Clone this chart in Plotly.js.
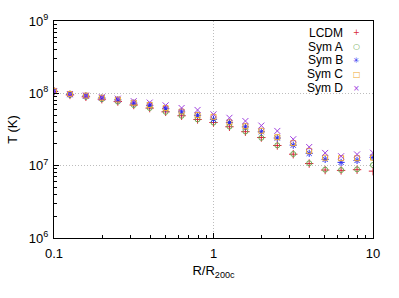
<!DOCTYPE html>
<html><head><meta charset="utf-8">
<script src="https://cdn.plot.ly/plotly-3.0.1.min.js"></script>
<style>html,body{margin:0;padding:0;background:#fff}#chart{width:399px;height:298px}</style>
</head><body><div id="chart"></div>
<script>
// R / R200c
const radius = [0.1, 0.1259, 0.1585, 0.1995, 0.2512, 0.3162, 0.3981, 0.5012, 0.631, 0.7943,
  1.0, 1.259, 1.585, 1.995, 2.512, 3.162, 3.981, 5.012, 6.31, 7.943, 10.0];
// Temperature (K)
const tLCDM = [1.06e8, 9.5e7, 8.95e7, 8.3e7, 7.7e7, 6.9e7, 6.25e7, 5.55e7, 4.9e7, 4.35e7,
  3.95e7, 3.45e7, 2.95e7, 2.45e7, 1.9e7, 1.44e7, 1.07e7, 8.7e6, 8.6e6, 8.8e6, 8.4e6];
const tSymA = [1.06e8, 9.5e7, 8.97e7, 8.3e7, 7.68e7, 6.89e7, 6.27e7, 5.54e7, 4.89e7, 4.36e7,
  3.94e7, 3.47e7, 2.97e7, 2.43e7, 1.91e7, 1.45e7, 1.08e7, 8.8e6, 8.7e6, 8.9e6, 1.02e7];
const tSymB = [1.07e8, 9.7e7, 9.2e7, 8.65e7, 8.13e7, 7.33e7, 6.82e7, 6.14e7, 5.54e7, 4.97e7,
  4.38e7, 3.94e7, 3.44e7, 2.94e7, 2.41e7, 1.92e7, 1.48e7, 1.22e7, 1.11e7, 1.18e7, 1.3e7];
const tSymC = [1.08e8, 9.8e7, 9.3e7, 8.7e7, 8.2e7, 7.4e7, 6.9e7, 6.25e7, 5.6e7, 5.0e7,
  4.74e7, 3.97e7, 3.51e7, 3.04e7, 2.47e7, 2.05e7, 1.6e7, 1.29e7, 1.27e7, 1.27e7, 1.29e7];
const tSymD = [1.07e8, 9.75e7, 9.31e7, 8.83e7, 8.43e7, 7.79e7, 7.45e7, 6.82e7, 6.27e7, 5.89e7,
  5.12e7, 4.59e7, 4.14e7, 3.58e7, 3.02e7, 2.32e7, 1.81e7, 1.5e7, 1.35e7, 1.43e7, 1.51e7];

const seriesNames = ['LCDM', 'Sym A', 'Sym B', 'Sym C', 'Sym D'];
const seriesValues = [tLCDM, tSymA, tSymB, tSymC, tSymD];
const legendKeys = ['+', '\u25CB', '\u2733', '\u25A1', '\u00D7'];

const xTickVals = [0.1, 1, 10];
const xTickText = ['0.1', '1', '10'];
const yTickVals = [1e6, 1e7, 1e8, 1e9];
const yTickText = ['10<sup>6</sup>', '10<sup>7</sup>', '10<sup>8</sup>', '10<sup>9</sup>'];

const colors = ['#d8283a', '#6aa84f', '#2b2bf0', '#f0a830', '#a040e0'];
const symbols = ['cross-thin-open', 'circle-open', 'asterisk-open', 'square-open', 'x-thin-open'];
const sizes = [6, 5, 6, 5, 6];

const traces = seriesNames.map((n, i) => ({
  type: 'scatter', mode: 'markers', name: n, x: radius, y: seriesValues[i],
  marker: {symbol: symbols[i], size: sizes[i], color: colors[i], line: {color: colors[i], width: 1}},
  showlegend: false
}));

const font = {family: '"Liberation Sans", Arial, sans-serif', size: 12, color: '#000'};
const yfont = {family: '"Liberation Sans", Arial, sans-serif', size: 13, color: '#000'};
const annotations = [];
seriesNames.forEach((n, i) => {
  const yy = 1 - (12 + 14.2 * i) / 222;
  annotations.push({xref: 'paper', yref: 'paper', x: (344.5 - 53) / 320, y: yy, xanchor: 'right', yanchor: 'middle',
    text: n, showarrow: false, font: font});
  annotations.push({xref: 'paper', yref: 'paper', x: (356.5 - 53) / 320, y: yy, xanchor: 'center', yanchor: 'middle',
    text: legendKeys[i], showarrow: false, font: {family: 'DejaVu Sans', size: 8, color: colors[i]}});
});

const axisCommon = {
  type: 'log', showline: true, linecolor: '#000', linewidth: 1, mirror: true,
  ticks: 'inside', ticklen: 5, tickcolor: '#000', tickwidth: 1,
  showgrid: true, gridcolor: '#bdbdbd', griddash: '1px,2px', gridwidth: 1,
  zeroline: false, tickmode: 'array',
  minor: {ticks: 'inside', ticklen: 3, tickcolor: '#000', dtick: 'D1', showgrid: false}
};

const layout = {
  width: 399, height: 298, margin: {l: 53, r: 26, t: 16, b: 60},
  paper_bgcolor: '#fff', plot_bgcolor: '#fff', font: font, showlegend: false,
  xaxis: Object.assign({}, axisCommon, {range: [-1, 1], tickvals: xTickVals, ticktext: xTickText,
    tickfont: Object.assign({}, font, {size: 13}), ticklabelstandoff: 3,
    title: {text: 'R/R<sub>200c</sub>', font: yfont, standoff: 6}}),
  yaxis: Object.assign({}, axisCommon, {range: [6, 9], tickvals: yTickVals, ticktext: yTickText,
    tickfont: yfont, ticklabelstandoff: 2, automargin: true,
    title: {text: 'T (K)', font: yfont, standoff: 8}}),
  annotations: annotations
};

Plotly.newPlot('chart', traces, layout, {staticPlot: true, displayModeBar: false});
</script>
</body></html>
